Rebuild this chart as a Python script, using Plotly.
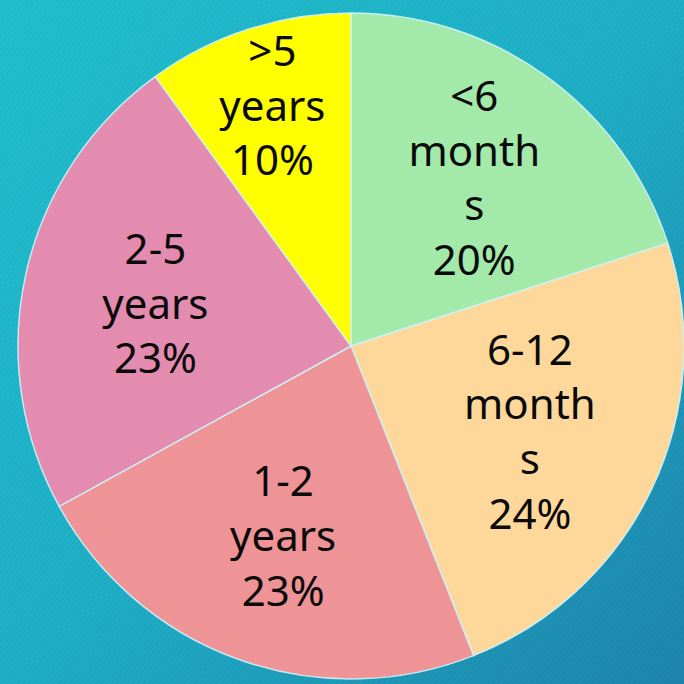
import base64
import plotly.graph_objects as go

# ---- data ----
labels = ["<6 months", "6-12 months", "1-2 years", "2-5 years", ">5 years"]
display_text = ["<6<br>month<br>s", "6-12<br>month<br>s", "1-2<br>years", "2-5<br>years", ">5<br>years"]
values = [20, 24, 23, 23, 10]
colors = ["#a2e9aa", "#fed89b", "#ee9396", "#e38cb0", "#ffff00"]

W = H = 684

# background gradient with faint diagonal stripes (as SVG image)
svg = f"""<svg xmlns='http://www.w3.org/2000/svg' width='{W}' height='{H}'>
<defs>
<linearGradient id='g' x1='0' y1='0' x2='1' y2='1'>
<stop offset='0' stop-color='#22c0cf'/>
<stop offset='0.5' stop-color='#1fb0c8'/>
<stop offset='1' stop-color='#1e86ad'/>
</linearGradient>
<pattern id='p' width='4' height='4' patternUnits='userSpaceOnUse' patternTransform='rotate(40)'>
<rect x='0' y='0' width='1.3' height='4' fill='rgba(0,40,60,0.07)'/>
</pattern>
</defs>
<rect width='{W}' height='{H}' fill='url(#g)'/>
<rect width='{W}' height='{H}' fill='url(#p)'/>
</svg>"""
src = "data:image/svg+xml;base64," + base64.b64encode(svg.encode()).decode()

cx, cy_top, r = 352, 346, 334
dom_x = [(cx - r) / W, min(1.0, (cx + r) / W)]
cy = H - cy_top
dom_y = [(cy - r) / H, min(1.0, (cy + r) / H)]

fig = go.Figure(go.Pie(
    labels=labels,
    values=values,
    text=display_text,
    texttemplate="%{text}<br>%{value}%",
    textinfo="text",
    textposition="inside",
    insidetextorientation="horizontal",
    sort=False,
    direction="clockwise",
    rotation=0,
    marker=dict(colors=colors, line=dict(color="rgba(205,242,248,0.9)", width=1.5)),
    textfont=dict(family="Noto Sans", size=42, color="#0a0a0a"),
    hoverinfo="label+percent",
    showlegend=False,
    domain=dict(x=dom_x, y=dom_y),
))

fig.update_layout(
    width=W, height=H,
    margin=dict(l=0, r=0, t=0, b=0),
    paper_bgcolor="#1fa8c4",
    plot_bgcolor="rgba(0,0,0,0)",
    uniformtext=dict(minsize=42, mode="show"),
    images=[dict(source=src, xref="paper", yref="paper", x=0, y=1,
                 sizex=1, sizey=1, sizing="stretch", layer="below",
                 xanchor="left", yanchor="top")],
)

fig.write_html("out.html",
               config={"displayModeBar": False},
               post_script="document.body.style.margin='0';document.body.style.overflow='hidden';")
